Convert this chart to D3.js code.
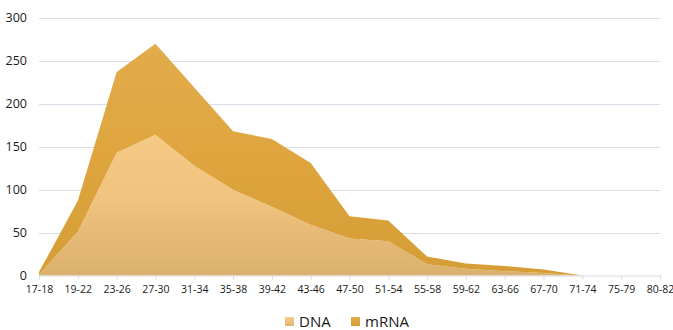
<!DOCTYPE html>
<html>
<head>
<meta charset="utf-8">
<script src="https://cdn.jsdelivr.net/npm/d3@7"></script>
<style>
  html, body { margin: 0; padding: 0; background: #fff; }
  svg { display: block; font-family: "Open Sans", "Liberation Sans", sans-serif; }
</style>
</head>
<body>
<svg id="chart" width="673" height="330"></svg>
<script>
// Age groups along the x axis
const categories = ["17-18","19-22","23-26","27-30","31-34","35-38","39-42","43-46","47-50",
  "51-54","55-58","59-62","63-66","67-70","71-74","75-79","80-82"];
// Counts per age group (stacked: mRNA sits on top of DNA)
const dnaValues  = [1, 51, 143, 164, 128, 100, 80, 59, 43, 40, 13, 8, 5, 3, 0, 0, 0];
const mrnaValues = [3, 36, 94, 106, 91, 68, 79, 72, 26, 24, 9, 6, 6, 4, 0, 0, 0];
const seriesNames = ["DNA", "mRNA"];
const yTicks = [0, 50, 100, 150, 200, 250, 300];

const svg = d3.select("#chart");
const plotLeft = 39, plotRight = 660, plotTop = 18, plotBottom = 275.5;

const x = d3.scalePoint().domain(categories).range([plotLeft, plotRight]);
const y = d3.scaleLinear().domain([0, 300]).range([plotBottom, plotTop]);

const rows = categories.map((c, i) => ({ cat: c, DNA: dnaValues[i], mRNA: mrnaValues[i] }));
const stacked = d3.stack().keys(seriesNames)(rows);

// Gradients
const defs = svg.append("defs");
function grad(id, stops) {
  const g = defs.append("linearGradient").attr("id", id)
    .attr("gradientUnits", "userSpaceOnUse")
    .attr("x1", 0).attr("x2", 0).attr("y1", plotTop).attr("y2", plotBottom);
  stops.forEach(s => g.append("stop").attr("offset", s[0]).attr("stop-color", s[1]));
}
grad("gDNA", [[0, "#f7cf8c"], [0.45, "#f5ca85"], [0.7, "#f0c37e"], [1, "#dbb06d"]]);
grad("gRNA", [[0, "#e3ad4e"], [0.5, "#dfa640"], [1, "#d59d35"]]);

// Gridlines
svg.append("g").selectAll("line").data(yTicks.filter(t => t > 0)).join("line")
  .attr("x1", plotLeft).attr("x2", plotRight)
  .attr("y1", d => Math.round(y(d)) + 0.5).attr("y2", d => Math.round(y(d)) + 0.5)
  .attr("stroke", "#d9dee8").attr("stroke-width", 1);

// Areas
const area = d3.area()
  .x(d => x(d.data.cat))
  .y0(d => y(d[0]))
  .y1(d => y(d[1]));
const fills = { DNA: "url(#gDNA)", mRNA: "url(#gRNA)" };
svg.append("g").selectAll("path").data(stacked).join("path")
  .attr("d", area)
  .attr("fill", d => fills[d.key]);

// X axis
const xAxis = svg.append("g").attr("transform", `translate(0,${plotBottom})`)
  .call(d3.axisBottom(x).tickSize(4).tickPadding(6));
xAxis.select(".domain").attr("stroke", "#d5dae3").attr("d", `M${plotLeft},0.5H${plotRight}`);
xAxis.selectAll(".tick line").attr("stroke", "#d5dae3");
xAxis.selectAll("text").attr("fill", "#1a1a1a")
  .style("font-family", "'Open Sans', sans-serif").style("font-size", "10.5px");

// Y axis labels
svg.append("g").selectAll("text").data(yTicks).join("text")
  .attr("x", 27).attr("y", d => y(d)).attr("dy", "0.35em")
  .attr("text-anchor", "end").attr("fill", "#1a1a1a")
  .style("font-size", "12.5px")
  .text(d => d);

// Legend
const legend = svg.append("g").attr("transform", "translate(285,317)");
const items = [{ name: "DNA", fill: "url(#lgDNA)", x: 0 }, { name: "mRNA", fill: "url(#lgRNA)", x: 66 }];
function lgrad(id, c1, c2) {
  const g = defs.append("linearGradient").attr("id", id).attr("x1", 0).attr("x2", 0).attr("y1", 0).attr("y2", 1);
  g.append("stop").attr("offset", 0).attr("stop-color", c1);
  g.append("stop").attr("offset", 1).attr("stop-color", c2);
}
lgrad("lgDNA", "#f6cc88", "#e0b574");
lgrad("lgRNA", "#e2ab4a", "#d69e36");
const li = legend.selectAll("g").data(items).join("g").attr("transform", d => `translate(${d.x},0)`);
li.append("rect").attr("width", 9).attr("height", 9).attr("fill", d => d.fill);
li.append("text").attr("x", 14).attr("y", 9.5).attr("fill", "#1a1a1a")
  .style("font-size", "15px").text(d => d.name);
</script>
</body>
</html>
